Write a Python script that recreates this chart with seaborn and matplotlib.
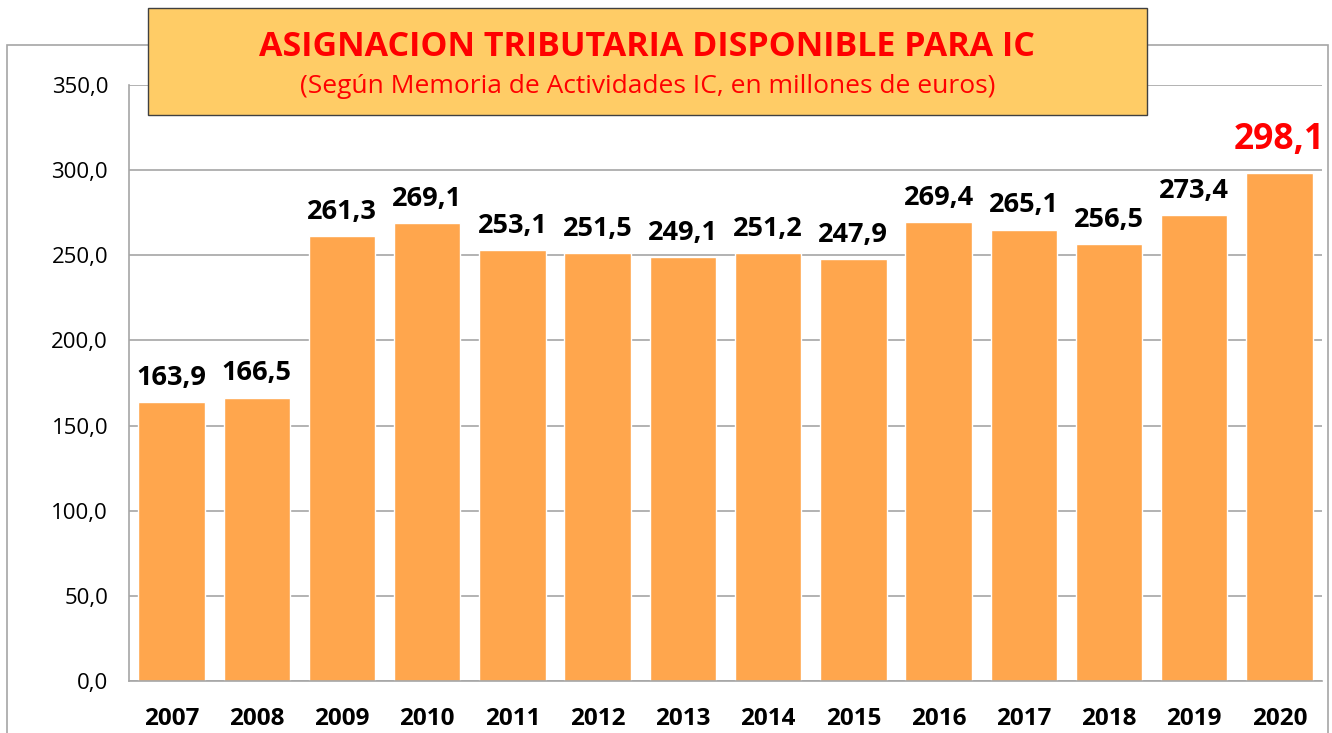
import matplotlib.pyplot as plt
import matplotlib.patches as mpatches
import numpy as np
import pandas as pd
import seaborn as sns

years = ['2007', '2008', '2009', '2010', '2011', '2012', '2013',
         '2014', '2015', '2016', '2017', '2018', '2019', '2020']
values = [163.9, 166.5, 261.3, 269.1, 253.1, 251.5, 249.1,
          251.2, 247.9, 269.4, 265.1, 256.5, 273.4, 298.1]
y_ticks = [0, 50, 100, 150, 200, 250, 300, 350]

title = 'ASIGNACION TRIBUTARIA DISPONIBLE PARA IC'
subtitle = '(Según Memoria de Actividades IC, en millones de euros)'

df = pd.DataFrame({'year': years, 'value': values})

sns.set_style('white')
plt.rcParams['font.family'] = ['Open Sans', 'DejaVu Sans']

fig = plt.figure(figsize=(13.32, 7.33), dpi=100)
ax = fig.add_axes([0.0968, 0.0709, 0.8957, 0.8131])

sns.barplot(data=df, x='year', y='value', color='#FFA64D', saturation=1,
            width=0.78, ax=ax)

ax.set_ylim(0, 350)
ax.set_xlim(-0.5, len(years) - 0.5)
ax.set_yticks(y_ticks)
ax.set_yticklabels([f'{v:.1f}'.replace('.', ',') for v in y_ticks],
                   fontsize=16, color='black')
ax.set_xlabel('')
ax.set_ylabel('')
ax.yaxis.grid(True, color='#A6A6A6', linewidth=1.2)
ax.set_axisbelow(True)

for s in ['top', 'right']:
    ax.spines[s].set_visible(False)
ax.spines['left'].set_color('#A6A6A6')
ax.spines['bottom'].set_color('#A6A6A6')
ax.spines['left'].set_linewidth(1.2)
ax.spines['bottom'].set_linewidth(1.2)

ax.tick_params(axis='y', length=5, color='#A6A6A6', width=1.2, pad=10)
ax.tick_params(axis='x', which='major', length=0, pad=19)
ax.set_xticks(np.arange(-0.5, len(years)), minor=True)
ax.tick_params(axis='x', which='minor', length=6, color='#A6A6A6', width=1.2)
for lbl in ax.get_xticklabels():
    lbl.set_fontweight('bold')
    lbl.set_fontsize(17.5)
    lbl.set_color('black')

# value labels
for i, v in enumerate(values):
    txt = f'{v:.1f}'.replace('.', ',')
    last = i == len(values) - 1
    ax.annotate(txt, (i, v), xytext=(0, 8 if not last else 11),
                textcoords='offset points', ha='center', va='bottom',
                fontsize=25.5 if last else 19.5, fontweight='bold',
                color='red' if last else 'black', annotation_clip=False)

# outer border
fig.patches.append(mpatches.Rectangle((0.0053, -0.02), 0.9917, 0.9586,
                                      transform=fig.transFigure,
                                      fill=False, edgecolor='#A6A6A6',
                                      linewidth=1.2, zorder=0))

# title box
fig.patches.append(mpatches.Rectangle((0.111, 0.843), 0.75, 0.146,
                                      transform=fig.transFigure,
                                      facecolor='#FFCC66', edgecolor='#404040',
                                      linewidth=1, zorder=5))
fig.text(0.486, 0.936, title, ha='center', va='center', fontsize=24.5,
         fontweight='bold', color='#FF0000', zorder=6)
fig.text(0.486, 0.882, subtitle, ha='center', va='center', fontsize=19,
         color='#FF0000', zorder=6)

fig.savefig('out.png', dpi=100)
